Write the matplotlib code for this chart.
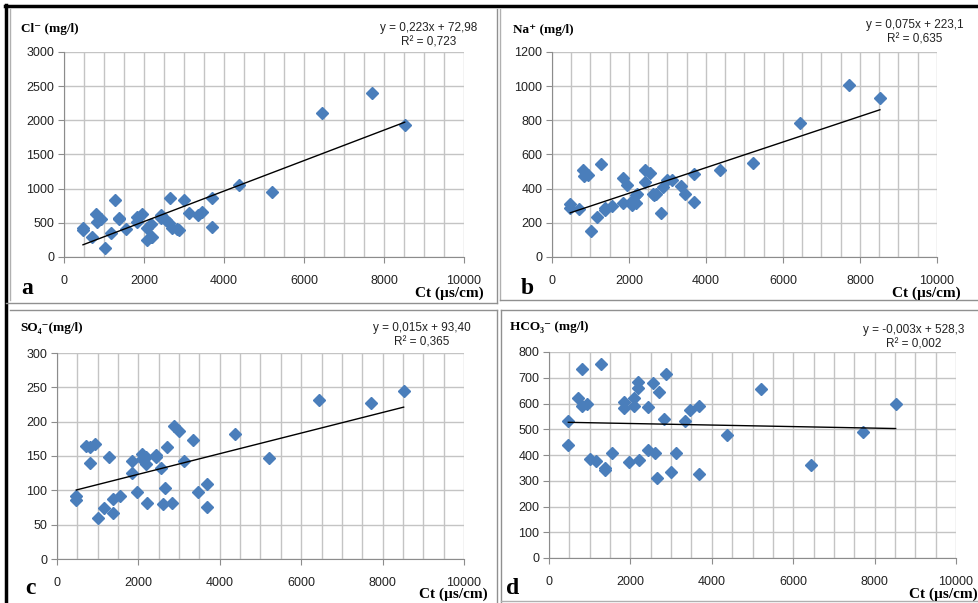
import numpy as np
import matplotlib
matplotlib.use("Agg")
import matplotlib.pyplot as plt
from matplotlib.lines import Line2D
from matplotlib.ticker import MultipleLocator

# conductivity Ct (us/cm), same samples in every panel
ct = [475, 475, 704, 803, 819, 934, 1016, 1163, 1269, 1384, 1384, 1548, 1835, 1835,
      1957, 2080, 2080, 2187, 2187, 2203, 2424, 2424, 2547, 2613, 2654, 2694, 2834,
      2883, 2997, 3120, 3341, 3456, 3694, 3694, 4373, 5209, 6445, 7706, 8517]

cl = [419, 390, 297, 628, 516, 550, 131, 346, 833, 565, 555, 404, 516, 589,
      628, 429, 248, 482, 287, 297, 614, 565, 540, 500, 862, 429, 404,
      390, 828, 648, 618, 653, 862, 433, 1047, 945, 2114, 2401, 1929]

na = [310, 284, 279, 508, 475, 479, 154, 232, 547, 275, 284, 300, 460, 318,
      421, 304, 330, 362, 318, 370, 508, 440, 489, 366, 362, 370, 255,
      411, 450, 450, 415, 366, 485, 320, 508, 551, 787, 1007, 931]

so4 = [92, 86, 165, 140, 163, 167, 60, 74, 148, 87, 67, 92, 142, 125,
       98, 153, 146, 148, 139, 82, 151, 148, 133, 80, 104, 163, 81,
       194, 187, 142, 173, 98, 109, 76, 182, 147, 231, 227, 245]

hco3 = [533, 439, 620, 590, 733, 597, 383, 378, 753, 351, 342, 406, 607, 581,
        374, 620, 590, 685, 659, 379, 588, 419, 678, 409, 312, 643, 539,
        715, 335, 409, 533, 575, 590, 326, 478, 655, 361, 488, 597]

# trendline coefficients as printed on the chart
slopes = [0.223, 0.075, 0.015, -0.003]
intercepts = [72.98, 223.1, 93.40, 528.3]
equations = ["y = 0,223x + 72,98\nR² = 0,723",
             "y = 0,075x + 223,1\nR² = 0,635",
             "y = 0,015x + 93,40\nR² = 0,365",
             "y = -0,003x + 528,3\nR² = 0,002"]
ylabels = ["Cl⁻ (mg/l)", "Na⁺ (mg/l)", "SO₄⁻(mg/l)", "HCO₃⁻ (mg/l)"]
letters = ["a", "b", "c", "d"]
ymaxes = [3000, 1200, 300, 800]
ysteps = [500, 200, 50, 100]
series = [cl, na, so4, hco3]

W, H = 979, 603
fig = plt.figure(figsize=(W / 100, H / 100), dpi=100)
fig.patch.set_facecolor("white")

serif = ["Liberation Serif", "DejaVu Serif"]
sans = ["Liberation Sans", "DejaVu Sans"]


def fx(px):
    return px / W


def fy(py):
    return 1 - py / H


# plot areas in pixels: left, right, top, bottom
areas = [(64, 464, 52, 257), (552, 937, 52, 257), (57, 464, 353, 559), (549, 956, 352, 558)]
# label positions in pixels
ylab_pos = [(21, 29), (513, 30), (20, 328), (510, 327)]
eq_pos = [(429, 35), (915, 32), (422, 335), (914, 337)]
letter_pos = [(27, 289), (527, 289), (30, 589), (513, 589)]
ct_pos = [(484, 293), (961, 293), (488, 594), (978, 594)]

for i in range(4):
    l, r, t, b = areas[i]
    ax = fig.add_axes([fx(l), fy(b), fx(r - l), (b - t) / H])
    ax.set_xlim(0, 10000)
    ax.set_ylim(0, ymaxes[i])
    ax.xaxis.set_major_locator(MultipleLocator(2000))
    ax.xaxis.set_minor_locator(MultipleLocator(500))
    ax.yaxis.set_major_locator(MultipleLocator(ysteps[i]))
    ax.grid(which="both", axis="x", color="#c4c4c4", lw=1)
    ax.grid(which="major", axis="y", color="#c4c4c4", lw=1)
    ax.set_axisbelow(True)
    for s in ["top", "right"]:
        ax.spines[s].set_visible(False)
    for s in ["left", "bottom"]:
        ax.spines[s].set_color("#8c8c8c")
    ax.tick_params(which="major", length=4, color="#8c8c8c", labelsize=9,
                   labelcolor="#222222", pad=3)
    ax.tick_params(which="minor", length=0)
    ax.tick_params(axis="x", pad=9)
    for lab in ax.get_xticklabels() + ax.get_yticklabels():
        lab.set_family(sans)

    ax.plot(ct, series[i], linestyle="none", marker="D", ms=6.5,
            color="#4a7ebb", mec="#4a7ebb", clip_on=False, zorder=3)
    xs = np.array([min(ct), max(ct)])
    ax.plot(xs, slopes[i] * xs + intercepts[i], color="black", lw=1, zorder=4)

    fig.text(fx(ylab_pos[i][0]), fy(ylab_pos[i][1]), ylabels[i], family=serif,
             weight="bold", fontsize=9.5, ha="left", va="center")
    fig.text(fx(eq_pos[i][0]), fy(eq_pos[i][1]), equations[i], family=sans,
             fontsize=8.5, ha="center", va="center", linespacing=1.3, color="#222222")
    fig.text(fx(letter_pos[i][0]), fy(letter_pos[i][1]), letters[i], family=serif,
             weight="bold", fontsize=17, ha="center", va="center")
    fig.text(fx(ct_pos[i][0]), fy(ct_pos[i][1]), "Ct (µs/cm)", family=serif,
             weight="bold", fontsize=11, ha="right", va="center")


def line(x0, y0, x1, y1, color, lw):
    fig.add_artist(Line2D([fx(x0), fx(x1)], [fy(y0), fy(y1)], color=color, lw=lw))


# panel frames
line(5, 6, 979, 6, "black", 2.5)
line(6, 5, 6, 603, "black", 2.5)
line(10, 9, 10, 300, "#b0b0b0", 1)
line(497, 9, 497, 303, "#909090", 1)
line(500, 9, 500, 300, "#b0b0b0", 1)
line(6, 303, 497, 303, "#909090", 1)
line(500, 300, 979, 300, "#909090", 1)
line(10, 310, 497, 310, "#909090", 1)
line(497, 310, 497, 603, "#909090", 1)
line(501, 310, 979, 310, "#909090", 1)
line(501, 310, 501, 603, "#909090", 1)
line(501, 601, 979, 601, "#b0b0b0", 1)

fig.savefig("out.png", dpi=100)
